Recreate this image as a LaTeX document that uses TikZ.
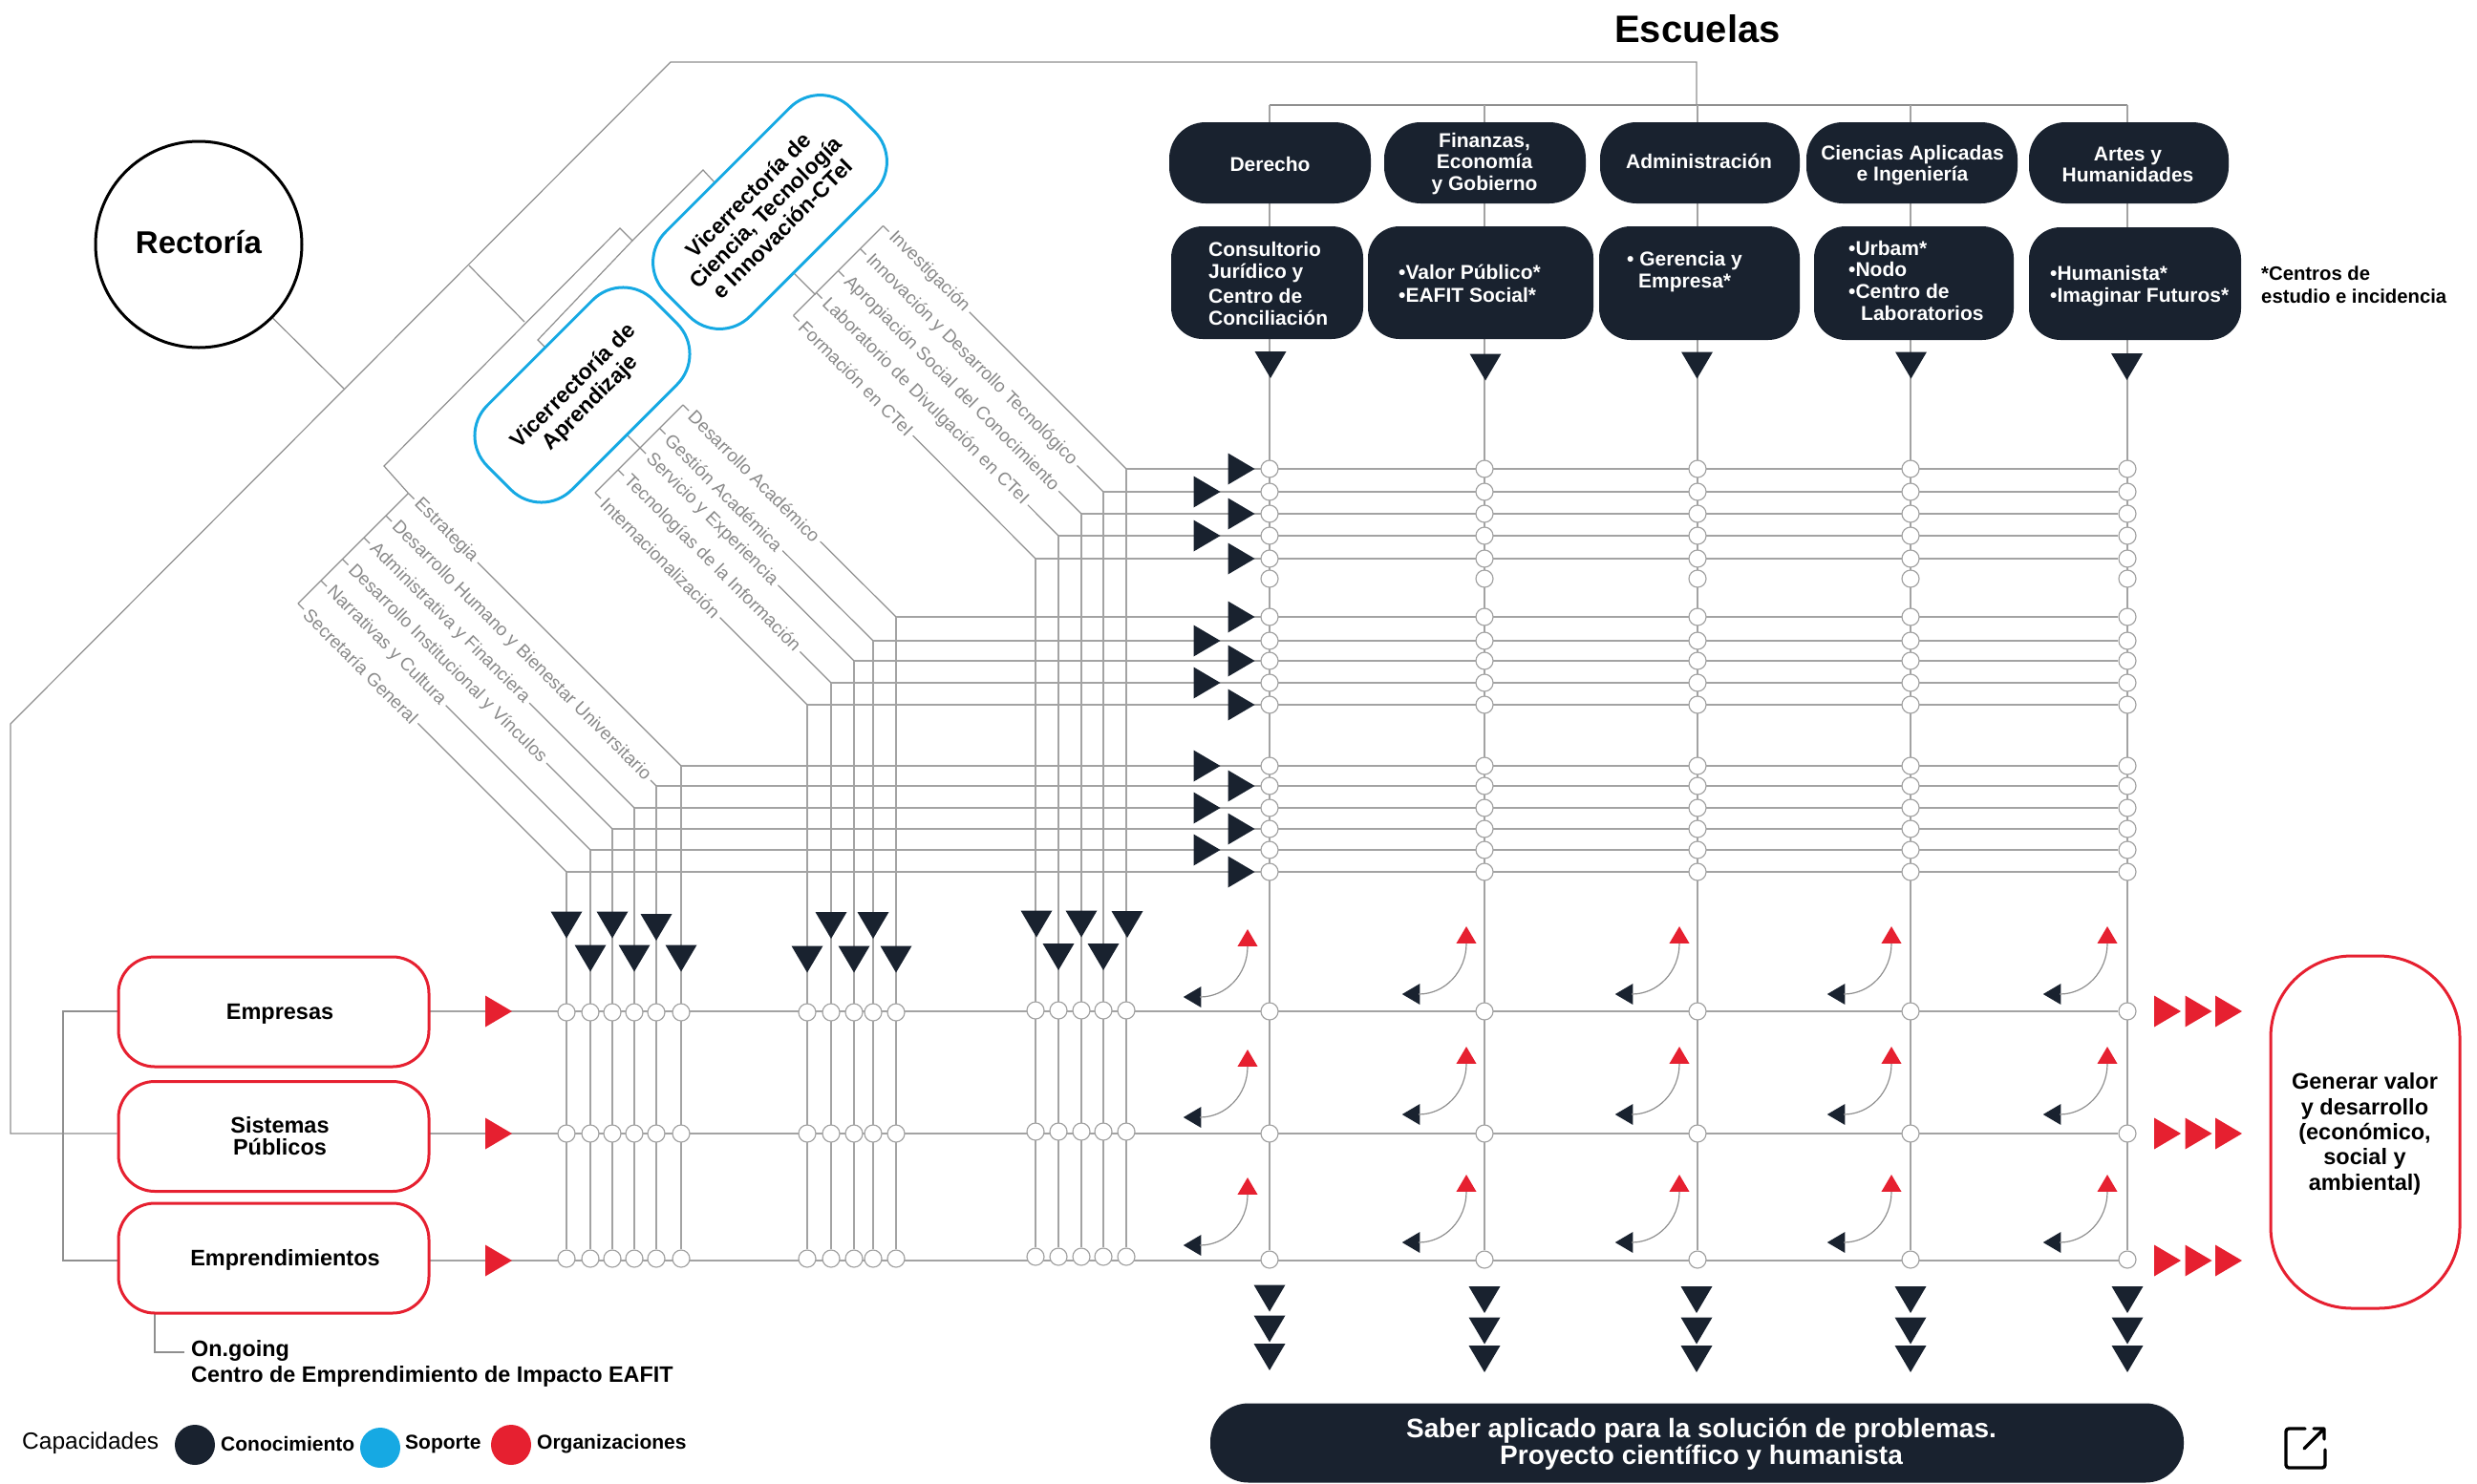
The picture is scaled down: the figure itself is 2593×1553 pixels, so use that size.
\documentclass[tikz,border=0pt]{standalone}
\usepackage{fontspec}
\setmainfont{Liberation Sans}
\usetikzlibrary{backgrounds}

\definecolor{navy}{HTML}{19222F}
\definecolor{skyline}{HTML}{16A9E3}
\definecolor{redline}{HTML}{E62030}
\definecolor{gridgray}{HTML}{A3A3A3}
\definecolor{thingray}{HTML}{8F8F8F}
\definecolor{labelgray}{HTML}{8A8A8A}

\tikzset{
	boldtext/.style={font=\bfseries\fontsize{21}{23}\selectfont,inner sep=0pt},
	darkbox/.style={fill=navy,rounded corners=38pt,inner sep=0pt,minimum height=85pt},
	darktext/.style={font=\bfseries\fontsize{21}{22.5}\selectfont,text=white,align=center,inner sep=0pt},
	lowerbox/.style={fill=navy,rounded corners=33pt,inner sep=0pt},
	lowertext/.style={boldtext,text=white,anchor=west,align=left},
	redbox/.style={draw=redline,line width=3pt,fill=white,rounded corners=38pt,minimum width=325pt,minimum height=115pt},
	redtext/.style={font=\bfseries\fontsize{23.5}{22.6}\selectfont,align=center,inner sep=0pt},
	vicebox/.style={draw=skyline,line width=3pt,fill=white,rounded corners=45pt,rotate=45,minimum height=125pt,inner sep=0pt},
	vicetext/.style={rotate=45,align=center,font=\bfseries\fontsize{23}{25}\selectfont,inner sep=0pt},
	areatext/.style={font=\fontsize{19}{19}\selectfont,text=labelgray,fill=white,rotate=-45,anchor=west,inner xsep=4pt,inner ysep=2pt},
	crossing/.style={circle,draw=gridgray,line width=1.2pt,fill=white,minimum size=18pt,inner sep=0pt},
	legendtext/.style={font=\bfseries\fontsize{21}{22}\selectfont,anchor=west,inner sep=0pt},
	legenddot/.style={circle,minimum size=42pt,inner sep=0pt},
	link/.style={draw=thingray,line width=1.2pt},
	gridlink/.style={draw=gridgray,line width=1.9pt},
	stemlink/.style={draw=gridgray,line width=1.4pt},
	head/.pic={\path[pic actions] (-14,-16.5) -- (14,0) -- (-14,16.5) -- cycle;}
}

\begin{document}
\begin{tikzpicture}[x=1pt,y=-1pt]
	\useasboundingbox (0,0) rectangle (2593,1553);

	% titulo y rectoria
	\node[font=\bfseries\fontsize{40}{42}\selectfont,inner sep=0pt] (escuelas) at (1777,30) {Escuelas};
	\node[circle,draw=black,line width=3pt,fill=white,minimum size=216pt,inner sep=0pt] (rectoria) at (208,256) {};
	\node[font=\bfseries\fontsize{33}{35}\selectfont,inner sep=0pt] (rectoriaT) at (208,254) {Rectoría};

	% vicerrectorias
	\node[vicebox,minimum width=274pt] (vicectei) at (806,222) {};
	\node[vicetext] (vicecteiT) at (801,222) {Vicerrectoría de\\Ciencia, Tecnología\\e Innovación-CTeI};
	\node[vicebox,minimum width=246pt] (viceapren) at (609.5,413.5) {};
	\node[vicetext] (viceaprenT) at (609.5,413.5) {Vicerrectoría de\\Aprendizaje};

	% escuelas
	\node[darkbox,minimum width=211pt] (derecho) at (1329.5,170.5) {};
	\node[darkbox,minimum width=211pt] (finanzas) at (1554.5,170.5) {};
	\node[darkbox,minimum width=209pt] (admin) at (1779.5,170.5) {};
	\node[darkbox,minimum width=221pt] (ciencias) at (2001.5,170.5) {};
	\node[darkbox,minimum width=209pt] (artes) at (2228.5,170.5) {};
	\node[darktext] (derechoT) at (1329.5,172) {Derecho};
	\node[darktext] (finanzasT) at (1554,171.5) {Finanzas,\\Economía\\y Gobierno};
	\node[darktext] (adminT) at (1778.5,169) {Administración};
	\node[darktext] (cienciasT) at (2002,173) {Ciencias Aplicadas\\e Ingeniería};
	\node[darktext] (artesT) at (2227.5,172.5) {Artes y\\Humanidades};

	\node[lowerbox,minimum width=201pt,minimum height=118pt] (consultorio) at (1326.5,296) {};
	\node[lowerbox,minimum width=236pt,minimum height=118pt] (valor) at (1550,296) {};
	\node[lowerbox,minimum width=210pt,minimum height=119pt] (gerencia) at (1779,296.5) {};
	\node[lowerbox,minimum width=209pt,minimum height=119pt] (urbam) at (2003.5,296.5) {};
	\node[lowerbox,minimum width=222pt,minimum height=118pt] (humanista) at (2235,297) {};

	\node[lowertext] (consultorioT) at (1265,297) {Consultorio\\Jurídico y\\[3pt]Centro de\\Conciliación};
	\node[lowertext] (valorT) at (1464,297) {\textbullet Valor Público*\\[1pt]\textbullet EAFIT Social*};
	\node[lowertext] (gerenciaT) at (1703,285) {\textbullet\ Gerencia y\\\hspace*{12pt}Empresa*};
	\node[lowertext] (urbamT) at (1935,294) {\textbullet Urbam*\\[-1pt]\textbullet Nodo\\\textbullet Centro de\\\hspace*{13pt}Laboratorios};
	\node[lowertext] (humanistaT) at (2146,300) {\textbullet Humanista*\\\textbullet Imaginar Futuros*};
	\node[boldtext,font=\bfseries\fontsize{20.3}{24}\selectfont,anchor=west,align=left] (centros) at (2367,298.5) {*Centros de\\estudio e incidencia};

	% organizaciones
	\node[redbox] (empresas) at (286.5,1059.5) {};
	\node[redbox] (sistemas) at (286.5,1190) {};
	\node[redbox] (emprende) at (286.5,1317.5) {};
	\node[redtext] (empresasT) at (293,1062) {Empresas};
	\node[redtext] (sistemasT) at (293,1189.5) {Sistemas\\Públicos};
	\node[redtext] (emprendeT) at (298.5,1319) {Emprendimientos};
	\node[draw=redline,line width=3pt,fill=white,rounded corners=85pt,minimum width=198pt,minimum height=369pt,inner sep=0pt] (generar) at (2476,1185.5) {};
	\node[font=\bfseries\fontsize{23.5}{26.4}\selectfont,align=center,inner sep=0pt] (generarT) at (2475.5,1187.5) {Generar valor\\y desarrollo\\(económico,\\social y\\ambiental)};

	\node[font=\bfseries\fontsize{23.4}{27}\selectfont,anchor=north west,align=left,inner sep=0pt] (ongoing) at (200,1403) {On.going\\Centro de Emprendimiento de Impacto EAFIT};

	% leyenda y saber aplicado
	\node[font=\fontsize{24.5}{26}\selectfont,anchor=west,inner sep=0pt] (capacidades) at (23,1511) {Capacidades};
	\node[legenddot,fill=navy] (dotcono) at (204,1513) {};
	\node[legenddot,fill=skyline] (dotsoporte) at (398,1516) {};
	\node[legenddot,fill=redline] (dotorga) at (535,1513) {};
	\node[legendtext] (cono) at (231,1512) {Conocimiento};
	\node[legendtext] (soporte) at (424,1512) {Soporte};
	\node[legendtext] (orga) at (562,1512) {Organizaciones};
	\node[fill=navy,rounded corners=40pt,minimum width=1019pt,minimum height=83pt,inner sep=0pt] (saber) at (1776.5,1511) {};
	\node[text=white,inner sep=0pt,align=center,font=\bfseries\fontsize{28}{28}\selectfont] (saberT) at (1781,1512.5) {Saber aplicado para la solución de problemas.\\Proyecto científico y humanista};

	% icono
	\draw[line width=3.4pt,line cap=round,line join=round,rounded corners=3pt] (2413,1496) -- (2393,1496) -- (2393,1537) -- (2434,1537) -- (2434,1518);
	\draw[line width=3.4pt,line cap=round,line join=round] (2412,1517) -- (2433,1496) (2422,1496) -- (2433,1496) -- (2433,1507);

	% areas diagonales
	\foreach \nm/\sx/\sy/\ex/\ey/\txt in {
		inves/924.5/236.5/1179/491/Investigación,
		innov/900.5/260.5/1155/515/Innovación y Desarrollo Tecnológico,
		aprop/877.5/283.5/1132/538/Apropiación Social del Conocimiento,
		labor/854.5/306.5/1108/561/Laboratorio de Divulgación en CTeI,
		forma/830.5/330.5/1084/585/Formación en CTeI,
		desar/715/424/938/646/Desarrollo Académico,
		gesti/690.5/448.5/914/671/Gestión Académica,
		servi/670/469/894/692/Servicio y Experiencia,
		tecno/647/492/870/715/Tecnologías de la Información,
		inter/623/516/845/738/Internacionalización,
		estra/427.5/516.5/713/802/Estrategia,
		human/404/540/687/823/Desarrollo Humano y Bienestar Universitario,
		admfi/381/563/664/846/Administrativa y Financiera,
		insti/358.5/585.5/641/868/Desarrollo Institucional y Vínculos,
		narra/336/608/618/890/Narrativas y Cultura,
		secre/312/632/593/913/Secretaría General}
	{
		\node[areatext] (\nm) at (\sx+6,\sy+6) {\txt};
		\coordinate (\nm top) at (\sx,\sy);
		\coordinate (\nm bend) at (\ex,\ey);
	}

	% cruces
	\foreach \cn/\cx in {1/1329,2/1554,3/1777,4/2000,5/2227}
		\foreach \rn/\ry in {1/491,2/515,3/538,4/561,5/585,6/606,7/646,8/671,9/692,10/715,11/738,12/802,13/823,14/846,15/868,16/890,17/913,18/1059,19/1187,20/1319}
			\node[crossing] (g\cn-\rn) at (\cx,\ry) {};
	\foreach \vn/\vx/\dy in {1/593/0,2/618/0,3/641/0,4/664/0,5/687/0,6/713/0,7/845/0,8/870/0,9/894/0,10/914/0,11/938/0,12/1084/-2,13/1108/-2,14/1132/-2,15/1155/-2,16/1179/-2}
		\foreach \rn/\ry in {18/1060,19/1187,20/1318}
			\node[crossing] (v\vn-\rn) at (\vx,\ry+\dy) {};

	% puntas oscuras
	\foreach \tx/\ty in {1330/382,1555/384.5,1776.5/382.5,2000.5/382.5,2226.5/384,
		593/968.5,618/1003.5,641/968.5,664/1003.5,687/971,713/1003.5,
		845/1004.5,870/969,894/1004.5,914/969,938/1004.5,
		1085/967.5,1108/1002,1132/967.5,1155/1002,1180/968,
		1329/1359.5,1329/1391.5,1329/1421,
		1554/1361,1554/1393.5,1554/1423,1776/1361,1776/1393.5,1776/1423,
		2000/1361,2000/1393.5,2000/1423,2227/1361,2227/1393.5,2227/1423}
		\pic[rotate=-90,fill=navy] at (\tx,\ty) {head};
	\foreach \ty in {491,538,585,646,692,738,823,868,913}
		\pic[fill=navy] at (1299.5,\ty) {head};
	\foreach \ty in {515,561,671,715,802,846,890}
		\pic[fill=navy] at (1263.5,\ty) {head};

	% puntas rojas
	\foreach \ty in {1059,1187,1320}{
		\pic[fill=redline] at (522,\ty) {head};
		\pic[fill=redline] at (2269,\ty) {head};
		\pic[fill=redline] at (2301.5,\ty) {head};
		\pic[fill=redline] at (2333,\ty) {head};
	}

	% flechas curvas
	\foreach \rx/\dy in {1306/3,1535/0,1758/0,1980/0,2206/0}
		\foreach \ry in {979,1105,1239}{
			\pic[rotate=90,scale=.64,fill=redline] at (\rx,\ry+\dy) {head};
			\pic[rotate=180,scale=.66,fill=navy] at (\rx-58,\ry+\dy+62) {head};
			\draw[link] (\rx,\ry+\dy+9) .. controls (\rx,\ry+\dy+38) and (\rx-22,\ry+\dy+62) .. (\rx-50,\ry+\dy+62);
		}

	% lineas
	\begin{pgfonlayer}{background}
		\draw[link] (rectoria) -- (360,407);
		\coordinate (outerlow) at (11,1187);
		\draw[link] (sistemas.west |- g1-19) -- (outerlow) -- (11,758) -- (702,65) -- (1776,65) -- (1776,110);
		\draw[link] (491,278) -- (549,337);
		\draw[link] (estratop) -- (402,488) -- (649,239) -- (662,252) -- (736,178) -- (748,191);
		\draw[link] (662,252) -- (563,356) -- (571,364);
		\draw[link] (investop) -- (formatop);
		\draw[link] (830,285) -- (853.5,308.5);
		\draw[link] (desartop) -- (intertop);
		\draw[link] (657,456) -- (670,469);
		\draw[link] (estratop) -- (secretop);
		\foreach \nm/\rn/\vn in {inves/1/16,innov/2/15,aprop/3/14,labor/4/13,forma/5/12,
			desar/7/11,gesti/8/10,servi/9/9,tecno/10/8,inter/11/7,
			estra/12/6,human/13/5,admfi/14/4,insti/15/3,narra/16/2,secre/17/1}{
			\draw[link] (\nm top) -- (\nm bend);
			\draw[gridlink] (\nm bend) -- (g5-\rn);
			\draw[stemlink] (\nm bend) -- (v\vn-20);
		}

		\draw[link] (1329,110) -- (2227,110);
		\draw[gridlink] (1329,110) -- (g1-20);
		\draw[gridlink] (1554,110) -- (g2-20);
		\draw[gridlink] (1777,110) -- (g3-20);
		\draw[gridlink] (2000,110) -- (g4-20);
		\draw[gridlink] (2227,110) -- (g5-20);

		\draw[gridlink] (empresas.west |- g5-18) -- (g5-18);
		\draw[gridlink] (sistemas.west |- g5-19) -- (g5-19);
		\draw[gridlink] (emprende.west |- 0,1320) -- (2227,1320);
		\draw[link] (empresas.west |- g5-18) -- (66,1059) -- (66,1320) -- (emprende.west |- 0,1320);
		\draw[link] (162,1375) -- (162,1416) -- (193,1416);
	\end{pgfonlayer}
\end{tikzpicture}
\end{document}
